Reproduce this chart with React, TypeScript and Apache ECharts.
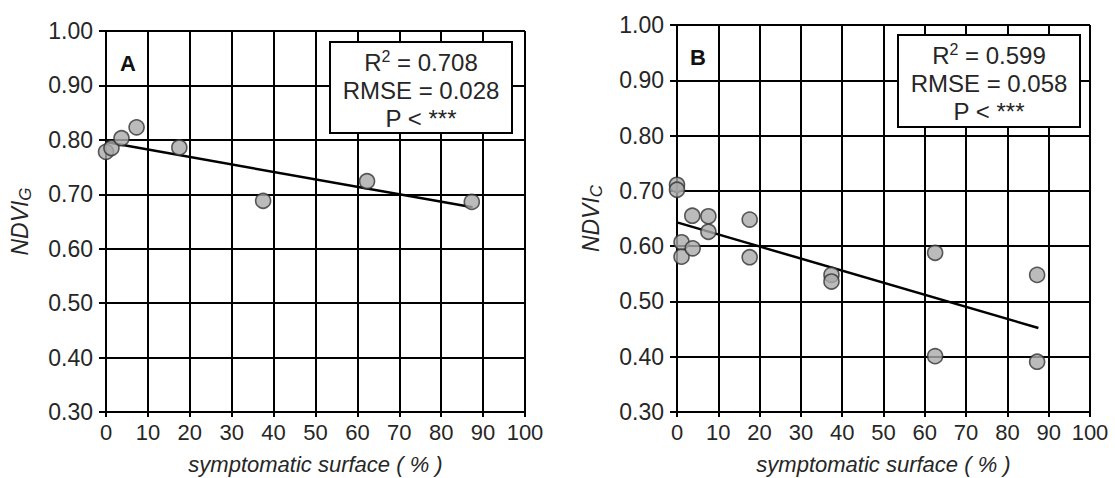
import React, { useEffect, useRef } from "react";
import * as echarts from "echarts";

// Panel A data (NDVI_G vs symptomatic surface)
const xA = [0, 1.3, 3.7, 7.3, 17.5, 37.5, 62.3, 87.3];
const yA = [0.778, 0.785, 0.803, 0.823, 0.786, 0.688, 0.724, 0.686];
const fitA = [[0, 0.796], [87.5, 0.676]];
const statsA = ["0.708", "0.028"];

// Panel B data (NDVI_C vs symptomatic surface)
const xB = [0, 0, 1.1, 1.1, 3.7, 3.8, 7.6, 7.6, 17.6, 17.6, 37.4, 37.4, 62.5, 62.5, 87.2, 87.2];
const yB = [0.711, 0.702, 0.607, 0.581, 0.655, 0.596, 0.654, 0.626, 0.648, 0.58, 0.548, 0.536, 0.588, 0.401, 0.548, 0.391];
const fitB = [[0, 0.643], [87.5, 0.452]];
const statsB = ["0.599", "0.058"];

const yTicks = [0.3, 0.4, 0.5, 0.6, 0.7, 0.8, 0.9, 1.0];
const xTicks = [0, 10, 20, 30, 40, 50, 60, 70, 80, 90, 100];

const FONT = "Liberation Sans, Arial, sans-serif";
const TXT = "#262626";

export default function App() {
  const ref = useRef<HTMLDivElement>(null);
  useEffect(() => {
    document.body.style.margin = "0";
    const chart = echarts.init(ref.current!, null, { renderer: "svg" });
    const grids = [
      { left: 106, right: 1115 - 525, top: 31, bottom: 478 - 412, outerBoundsMode: "none", containLabel: false },
      { left: 677, right: 1115 - 1090, top: 25, bottom: 478 - 412, outerBoundsMode: "none", containLabel: false },
    ];
    const mkX = (i: number) => ({
      type: "value",
      gridIndex: i,
      min: xTicks[0],
      max: xTicks[xTicks.length - 1],
      interval: 10,
      axisLine: { show: true, lineStyle: { color: "#000", width: 2 } },
      axisTick: { show: true, length: 5, lineStyle: { color: "#000", width: 2 } },
      splitLine: { show: true, lineStyle: { color: "#000", width: 2 } },
      axisLabel: { color: TXT, fontSize: 22, fontFamily: FONT, margin: 9 },
      name: "symptomatic surface ( % )",
      nameLocation: "middle",
      nameGap: 41,
      nameTextStyle: { color: TXT, fontSize: 22, lineHeight: 22, fontFamily: FONT, fontStyle: "italic" },
    });
    const mkY = (i: number, sub: string) => ({
      type: "value",
      gridIndex: i,
      min: yTicks[0],
      max: yTicks[yTicks.length - 1],
      interval: 0.1,
      axisLine: { show: true, lineStyle: { color: "#000", width: 2 } },
      axisTick: { show: true, length: 7, lineStyle: { color: "#000", width: 2 } },
      splitLine: { show: true, lineStyle: { color: "#000", width: 2 } },
      axisLabel: {
        color: TXT,
        fontSize: 23,
        fontFamily: FONT,
        margin: 13,
        formatter: (v: number) => v.toFixed(2),
      },
      name: "{a|NDVI}{s|" + sub + "}",
      nameLocation: "middle",
      nameGap: 72,
      nameTextStyle: {
        rich: {
          a: { color: TXT, fontSize: 23, fontFamily: FONT, fontStyle: "italic" },
          s: { color: TXT, fontSize: 17, fontFamily: FONT, fontStyle: "italic", padding: [12, 0, 0, 0] },
        },
      },
    });
    const scatterStyle = {
      symbol: "circle",
      symbolSize: 15,
      itemStyle: { color: "#aaaaaa", borderColor: "#333", borderWidth: 1.6 },
      z: 5,
    };
    const lineStyle = {
      type: "line",
      symbol: "none",
      lineStyle: { color: "#000", width: 2.5 },
      z: 4,
    };
    const box = (x: number, y: number, w: number, h: number, stats: string[]) => [
      {
        type: "rect",
        shape: { x, y, width: w, height: h },
        style: { fill: "#fff", stroke: "#000", lineWidth: 2 },
        z: 10,
      },
      {
        type: "text",
        x: x + w / 2,
        y: y + 6,
        z: 11,
        style: {
          text:
            "{a|R}{s|2}{a| = " + stats[0] + "}\n{a|RMSE = " + stats[1] + "}\n{a|P < ***}",
          align: "center",
          verticalAlign: "top",
          rich: {
            a: { fontSize: 24, fontFamily: FONT, fill: TXT, lineHeight: 28 },
            s: { fontSize: 16, fontFamily: FONT, fill: TXT, lineHeight: 28, padding: [0, 0, 12, 0] },
          },
        },
      },
    ];
    chart.setOption({
      animation: false,
      backgroundColor: "#fff",
      grid: grids,
      xAxis: [mkX(0), mkX(1)],
      yAxis: [mkY(0, "G"), mkY(1, "C")],
      series: [
        { ...lineStyle, xAxisIndex: 0, yAxisIndex: 0, data: fitA },
        { type: "scatter", ...scatterStyle, xAxisIndex: 0, yAxisIndex: 0, data: xA.map((x, i) => [x, yA[i]]) },
        { ...lineStyle, xAxisIndex: 1, yAxisIndex: 1, data: fitB },
        { type: "scatter", ...scatterStyle, xAxisIndex: 1, yAxisIndex: 1, data: xB.map((x, i) => [x, yB[i]]) },
      ],
      graphic: [
        ...box(330, 42, 182, 91, statsA),
        ...box(898, 35, 182, 92, statsB),
        {
          type: "text",
          x: 128,
          y: 63,
          z: 11,
          style: { text: "A", fontSize: 22, fontWeight: "bold", fontFamily: FONT, fill: "#111", align: "center", verticalAlign: "middle" },
        },
        {
          type: "text",
          x: 698,
          y: 57,
          z: 11,
          style: { text: "B", fontSize: 22, fontWeight: "bold", fontFamily: FONT, fill: "#111", align: "center", verticalAlign: "middle" },
        },
      ],
    });
    return () => chart.dispose();
  }, []);
  return <div ref={ref} style={{ width: 1115, height: 478 }} />;
}
